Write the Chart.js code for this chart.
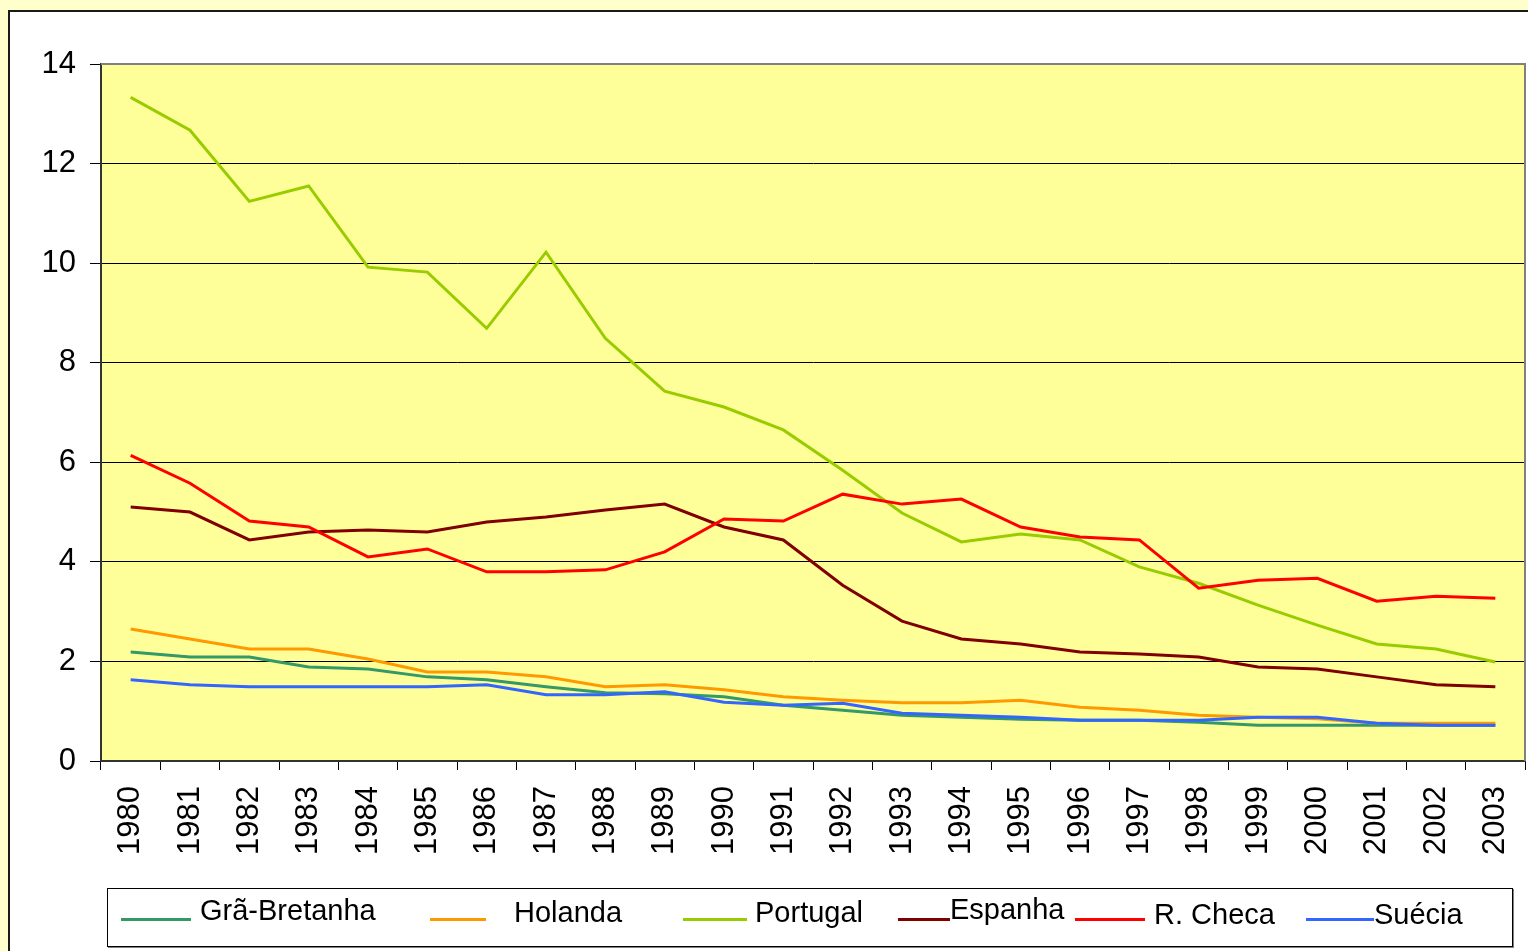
<!DOCTYPE html>
<html>
<head>
<meta charset="utf-8">
<script src="https://cdn.jsdelivr.net/npm/chart.js@4.4.0/dist/chart.umd.min.js"></script>
<style>
  body { margin: 0; background: #FFFFCC; overflow: hidden; }
  #frame { position: absolute; left: 8px; top: 10px; width: 1540px; height: 960px; background: #fff; border: 2px solid #1a1a1a; }
  #myChart { position: absolute; left: 0; top: 0; }
  #legend { position: absolute; left: 107px; top: 888px; width: 1404px; height: 57px; border: 1px solid #000; box-shadow: 1px 1px 0 #808080; }
  .item-line { position: absolute; top: 29px; height: 3px; }
  .item-text { position: absolute; font: 29px "Liberation Sans", Arial, sans-serif; line-height: 33px; color: #000; white-space: nowrap; }
</style>
</head>
<body>
<div id="frame"></div>
<canvas id="myChart" width="1528" height="951"></canvas>
<div id="legend"></div>
<script>
const myChart = document.getElementById("myChart");

const years = [
  "1980", "1981", "1982", "1983", "1984", "1985", "1986", "1987",
  "1988", "1989", "1990", "1991", "1992", "1993", "1994", "1995",
  "1996", "1997", "1998", "1999", "2000", "2001", "2002", "2003",
];

const graBretanha = [2.19, 2.09, 2.09, 1.89, 1.85, 1.69, 1.63, 1.49, 1.37, 1.35, 1.29, 1.12,
  1.02, 0.92, 0.88, 0.84, 0.82, 0.82, 0.78, 0.72, 0.72, 0.72, 0.72, 0.72];
const holanda = [2.65, 2.45, 2.25, 2.25, 2.05, 1.79, 1.79, 1.69, 1.49, 1.53, 1.43, 1.29,
  1.22, 1.17, 1.17, 1.22, 1.08, 1.02, 0.92, 0.88, 0.85, 0.76, 0.76, 0.76];
const portugal = [13.33, 12.67, 11.24, 11.55, 9.92, 9.82, 8.69, 10.22, 8.49, 7.43, 7.11, 6.65,
  5.84, 4.98, 4.40, 4.56, 4.44, 3.90, 3.57, 3.13, 2.73, 2.35, 2.25, 1.99];
const espanha = [5.10, 5.00, 4.44, 4.60, 4.64, 4.60, 4.80, 4.90, 5.04, 5.16, 4.70, 4.44,
  3.53, 2.81, 2.45, 2.35, 2.19, 2.15, 2.09, 1.89, 1.85, 1.69, 1.53, 1.49];
const rCheca = [6.14, 5.58, 4.82, 4.70, 4.10, 4.26, 3.80, 3.80, 3.84, 4.20, 4.86, 4.82,
  5.36, 5.16, 5.26, 4.70, 4.50, 4.44, 3.47, 3.63, 3.67, 3.21, 3.31, 3.27];
const suecia = [1.63, 1.53, 1.49, 1.49, 1.49, 1.49, 1.53, 1.33, 1.33, 1.39, 1.18, 1.12,
  1.16, 0.96, 0.92, 0.88, 0.82, 0.82, 0.82, 0.88, 0.88, 0.76, 0.72, 0.72];

const seriesNames = ["Grã-Bretanha", "Holanda", "Portugal", "Espanha", "R. Checa", "Suécia"];
const seriesData = [graBretanha, holanda, portugal, espanha, rCheca, suecia];
const lineColors = ["#339966", "#FF9900", "#99CC00", "#800000", "#FF0000", "#3366FF"];

const yTicks = [0, 2, 4, 6, 8, 10, 12, 14];

// plot background and top/right border like the spreadsheet chart
const plotArea = {
  id: "plotArea",
  beforeDraw(chart) {
    const { ctx, chartArea: a } = chart;
    ctx.save();
    ctx.fillStyle = "#FFFF99";
    ctx.fillRect(a.left, a.top, a.right - a.left, a.bottom - a.top);
    ctx.restore();
  },
  afterDatasetsDraw(chart) {
    const { ctx, chartArea: a } = chart;
    ctx.save();
    ctx.strokeStyle = "#808080";
    ctx.lineWidth = 2;
    ctx.beginPath();
    ctx.moveTo(a.left, a.top);
    ctx.lineTo(a.right, a.top);
    ctx.lineTo(a.right, a.bottom);
    ctx.stroke();
    ctx.restore();
  },
};

new Chart(myChart, {
  type: "line",
  data: {
    labels: years,
    datasets: seriesNames.map((name, i) => ({
      label: name,
      data: seriesData[i],
      borderColor: lineColors[i],
      borderWidth: 3,
      pointRadius: 0,
      tension: 0,
      fill: false,
      order: seriesNames.length - i,
    })),
  },
  options: {
    responsive: false,
    animation: false,
    events: [],
    layout: { padding: { top: 64, right: 3, left: 0, bottom: 0 } },
    plugins: { legend: { display: false }, tooltip: { enabled: false } },
    scales: {
      x: {
        offset: true,
        grid: { offset: true, drawOnChartArea: false, tickLength: 9, tickColor: "#000", lineWidth: 1 },
        border: { color: "#333", width: 2 },
        ticks: {
          minRotation: 90, maxRotation: 90, autoSkip: false, padding: 16,
          color: "#000", font: { family: "Liberation Sans", size: 31 },
        },
        afterFit(scale) {
          scale.height = 190;
          scale.paddingLeft = 0;
          scale.paddingRight = 0;
        },
      },
      y: {
        min: 0,
        max: 14,
        afterBuildTicks(scale) {
          scale.ticks = yTicks.map((v) => ({ value: v }));
        },
        grid: {
          color: (c) => (c.tick && c.tick.value === 14 ? "#808080" : "#000"),
          tickColor: "#000",
          tickLength: 11,
          lineWidth: 1,
        },
        border: { color: "#333", width: 2 },
        ticks: { padding: 14, color: "#000", font: { family: "Liberation Sans", size: 31 } },
        afterFit(scale) {
          scale.width = 101;
        },
      },
    },
  },
  plugins: [plotArea],
});

// legend box below the chart, items placed like the original
const legendSlots = [
  { line: 13, w: 70, text: 92, top: 5 },
  { line: 322, w: 56, text: 406, top: 7 },
  { line: 575, w: 64, text: 647, top: 7 },
  { line: 790, w: 52, text: 842, top: 4 },
  { line: 967, w: 70, text: 1046, top: 9 },
  { line: 1198, w: 68, text: 1266, top: 9 },
];
const legend = document.getElementById("legend");
seriesNames.forEach((name, i) => {
  const slot = legendSlots[i];
  const ln = document.createElement("div");
  ln.className = "item-line";
  ln.style.left = slot.line + "px";
  ln.style.width = slot.w + "px";
  ln.style.background = lineColors[i];
  legend.appendChild(ln);
  const tx = document.createElement("span");
  tx.className = "item-text";
  tx.style.left = slot.text + "px";
  tx.style.top = slot.top + "px";
  tx.textContent = name;
  legend.appendChild(tx);
});
</script>
</body>
</html>
